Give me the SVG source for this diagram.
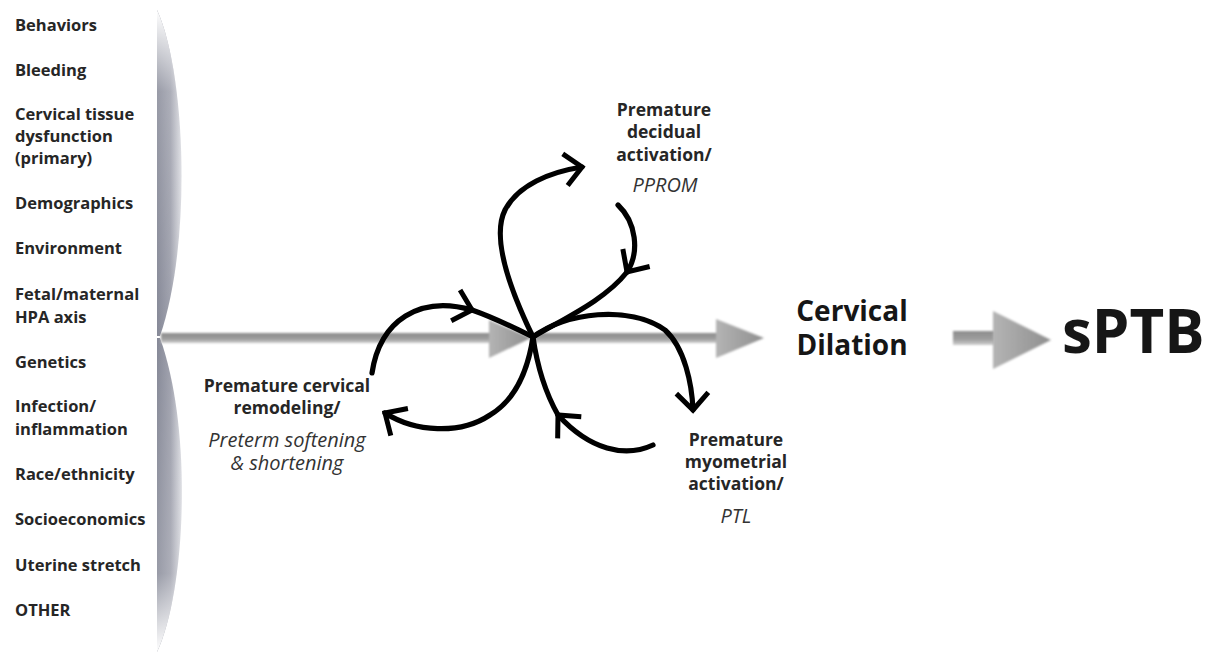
<svg xmlns="http://www.w3.org/2000/svg" width="1210" height="654" viewBox="0 0 1210 654">
<defs>
<style>
.lst{font-family:"Open Sans","Liberation Sans",sans-serif;font-weight:700;font-size:16.5px;fill:#262626}
.lbl{font-family:"Open Sans","Liberation Sans",sans-serif;font-weight:700;font-size:17.5px;fill:#262626;text-anchor:middle}
.it{font-family:"Open Sans","Liberation Sans",sans-serif;font-style:italic;font-weight:400;font-size:20px;fill:#333;text-anchor:middle}
.big{font-family:"Open Sans","Liberation Sans",sans-serif;font-weight:700;fill:#161616}
.cyc{fill:none;stroke:#000;stroke-width:5.2;stroke-linecap:round}
.gray{fill:url(#headGrad);filter:url(#soft)}
</style>
<linearGradient id="lensH" x1="0" y1="0" x2="1" y2="0">
<stop offset="0" stop-color="#868997"/>
<stop offset="0.55" stop-color="#9fa1ad"/>
<stop offset="1" stop-color="#dcdde2"/>
</linearGradient>
<linearGradient id="fadeTop" x1="0" y1="0" x2="0" y2="1">
<stop offset="0" stop-color="#fff" stop-opacity="1"/>
<stop offset="0.25" stop-color="#fff" stop-opacity="0.15"/>
<stop offset="1" stop-color="#fff" stop-opacity="0"/>
</linearGradient>
<linearGradient id="fadeBot" x1="0" y1="0" x2="0" y2="1">
<stop offset="0" stop-color="#fff" stop-opacity="0"/>
<stop offset="0.75" stop-color="#fff" stop-opacity="0.15"/>
<stop offset="1" stop-color="#fff" stop-opacity="1"/>
</linearGradient>
<linearGradient id="shaftGrad" x1="0" y1="0" x2="0" y2="1">
<stop offset="0" stop-color="#8c8c8c"/>
<stop offset="0.6" stop-color="#9e9e9e"/>
<stop offset="1" stop-color="#cfcfcf"/>
</linearGradient>
<linearGradient id="headGrad" x1="0" y1="0" x2="1" y2="0">
<stop offset="0" stop-color="#b4b4b4"/>
<stop offset="1" stop-color="#8f8f8f"/>
</linearGradient>
<filter id="soft" x="-10%" y="-20%" width="120%" height="140%">
<feGaussianBlur stdDeviation="0.8"/>
</filter>
<marker id="chev" viewBox="-20 -20 24 40" refX="0" refY="0" markerWidth="24" markerHeight="40" orient="auto" markerUnits="userSpaceOnUse" overflow="visible">
<path d="M-17,-16 L0,0 L-17,16" fill="none" stroke="#000" stroke-width="5" stroke-linejoin="miter"/>
</marker>
</defs>
<rect width="1210" height="654" fill="#fff"/>

<g id="factors">
<path d="M157,10 C185,70 193,240 160,336 L157,336 Z" fill="url(#lensH)"/>
<path d="M157,10 C185,70 193,240 160,336 L157,336 Z" fill="url(#fadeTop)"/>
<path d="M160,338 C193,430 186,590 157,652 L157,338 Z" fill="url(#lensH)"/>
<path d="M160,338 C193,430 186,590 157,652 L157,338 Z" fill="url(#fadeBot)"/>
<text class="lst" x="15" y="31">Behaviors</text>
<text class="lst" x="15" y="76">Bleeding</text>
<text class="lst" x="15" y="120">Cervical tissue</text>
<text class="lst" x="15" y="142">dysfunction</text>
<text class="lst" x="15" y="164">(primary)</text>
<text class="lst" x="15" y="209">Demographics</text>
<text class="lst" x="15" y="254">Environment</text>
<text class="lst" x="15" y="300">Fetal/maternal</text>
<text class="lst" x="15" y="323">HPA axis</text>
<text class="lst" x="15" y="368">Genetics</text>
<text class="lst" x="15" y="412">Infection/</text>
<text class="lst" x="15" y="435">inflammation</text>
<text class="lst" x="15" y="480">Race/ethnicity</text>
<text class="lst" x="15" y="525">Socioeconomics</text>
<text class="lst" x="15" y="571">Uterine stretch</text>
<text class="lst" x="15" y="616">OTHER</text>
</g>

<g id="decidual">
<text class="lbl" x="664" y="116">Premature</text>
<text class="lbl" x="664" y="138">decidual</text>
<text class="lbl" x="664" y="161">activation/</text>
<text class="it" x="665" y="192">PPROM</text>
</g>

<g id="myometrial">
<text class="lbl" x="736" y="446">Premature</text>
<text class="lbl" x="736" y="468">myometrial</text>
<text class="lbl" x="736" y="490">activation/</text>
<text class="it" x="736" y="523">PTL</text>
</g>

<g id="cervical-remodeling">
<text class="lbl" x="287" y="392">Premature cervical</text>
<text class="lbl" x="287" y="414">remodeling/</text>
<text class="it" x="287" y="447">Preterm softening</text>
<text class="it" x="287" y="470">&amp; shortening</text>
</g>

<g id="cervical-dilation">
<text class="big" x="852" y="321" font-size="28" text-anchor="middle">Cervical</text>
<text class="big" x="852" y="355" font-size="28" text-anchor="middle">Dilation</text>
</g>

<g id="sptb">
<text class="big" x="1062" y="353" font-size="60">sPTB</text>
</g>

<g id="connectors">
<rect x="161" y="333" width="332" height="10" fill="url(#shaftGrad)" filter="url(#soft)"/>
<polygon class="gray" points="489,320 531,338 489,358"/>
<rect x="530" y="333" width="190" height="10" fill="url(#shaftGrad)" filter="url(#soft)"/>
<polygon class="gray" points="716,319 764,338 716,358"/>
<rect x="953" y="331" width="42" height="14" fill="url(#shaftGrad)" filter="url(#soft)"/>
<polygon class="gray" points="993,311 1051,340 993,369"/>

<path class="cyc" marker-end="url(#chev)" d="M372,373 C380,320 420,295 472,310"/>
<path class="cyc" marker-end="url(#chev)" d="M472,310 C495,318 515,328 533,337 C565,312 630,305 665,330 C685,348 692,385 693,410"/>
<path class="cyc" marker-end="url(#chev)" d="M653,445 C625,458 590,450 558,415"/>
<path class="cyc" marker-end="url(#chev)" d="M558,415 C545,392 537,365 533,337 C515,300 490,240 505,210 C518,185 550,172 582,167"/>
<path class="cyc" marker-end="url(#chev)" d="M618,205 C636,222 640,252 627,272"/>
<path class="cyc" marker-end="url(#chev)" d="M627,272 C605,300 565,318 533,337 C528,370 515,400 490,415 C460,435 415,432 385,413"/>
</g>
</svg>
